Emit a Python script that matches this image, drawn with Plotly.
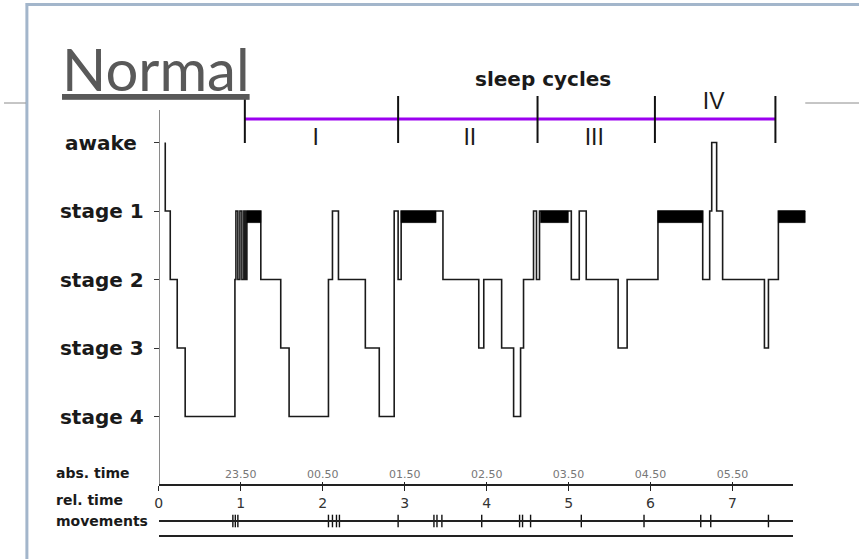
import plotly.graph_objects as go

W, H = 859, 559

# ---------------- data ----------------
stage_vals = [0, 1, 2, 3, 4]
stage_labels = ["awake\u00a0", "stage 1", "stage 2", "stage 3", "stage 4"]

# hypnogram: step start times (hours after lights-off) and stage (0=awake .. 4=stage 4)
hyp_t = [0.079, 0.079, 0.140, 0.225, 0.322, 0.929, 0.941, 0.965, 0.990, 1.014,
         1.038, 1.056, 1.075, 1.245, 1.488, 1.590, 2.070, 2.119, 2.192, 2.520,
         2.690, 2.872, 2.920, 2.957, 3.467, 3.904, 3.965, 4.183, 4.329, 4.414,
         4.450, 4.572, 4.608, 4.645, 5.033, 5.130, 5.215, 5.604, 5.714, 6.090,
         6.636, 6.721, 6.746, 6.806, 6.879, 7.389, 7.438, 7.559, 7.887]
hyp_stage = [0, 1, 2, 3, 4, 2, 1, 2, 1, 2,
             1, 2, 1, 2, 3, 4, 2, 1, 2, 3,
             4, 1, 2, 1, 2, 3, 2, 3, 4, 3,
             2, 1, 2, 1, 2, 1, 2, 3, 2, 1,
             2, 1, 0, 1, 2, 3, 2, 1, 1]

# REM periods (black bars on the stage-1 level)
rem_start = [1.075, 2.957, 4.657, 6.090, 7.559]
rem_end = [1.245, 3.383, 4.997, 6.636, 7.887]

# sleep cycles
cycle_bounds = [1.050, 2.920, 4.621, 6.053, 7.523]
cycle_names = ["I", "II", "III", "IV"]
cycle_label_t = [1.913, 3.795, 5.313, 6.770]
cycle_label_side = ["below", "below", "below", "above"]

# time axes
rel_ticks = [0, 1, 2, 3, 4, 5, 6, 7]
rel_labels = ["0", "1", "2", "3", "4", "5", "6", "7"]
abs_ticks = [1, 2, 3, 4, 5, 6, 7]
abs_labels = ["23.50", "00.50", "01.50", "02.50", "03.50", "04.50", "05.50"]

# body movements (hours)
movements = [0.904, 0.934, 0.965, 2.070, 2.119, 2.168, 2.204, 2.920, 3.357, 3.394,
             3.454, 3.940, 4.402, 4.438, 4.536, 5.155, 5.920, 6.612, 6.734, 7.438]

# ---------------- layout helpers ----------------
X0, KX = 155.5, 82.35      # pixel of t=0, pixels per hour
Y1, KY = 211.0, 68.5       # pixel of stage 1, pixels per stage


def t_of(px):
    return (px - X0) / KX


def s_of(py):
    return 1 + (py - Y1) / KY


def fx(px):
    return px / W


def fy(py):
    return 1 - py / H


AX_LEFT, AX_RIGHT = 155.5, 793
AX_TOP, AX_BOT = 110, 485
REM_H = 0.17
CYC_Y = s_of(119)
CYC_TOP, CYC_BOT = s_of(96), s_of(143)
LAB_BELOW, LAB_ABOVE = s_of(139), s_of(103)
MOV_Y = s_of(521)

fig = go.Figure()

# hypnogram
fig.add_trace(go.Scatter(x=hyp_t, y=hyp_stage, mode="lines",
                         line=dict(shape="hv", color="#1a1a1a", width=1.6),
                         hoverinfo="skip", showlegend=False))

# REM bars
rx, ry = [], []
for a, b in zip(rem_start, rem_end):
    rx += [a, b, b, a, a, None]
    ry += [1, 1, 1 + REM_H, 1 + REM_H, 1, None]
fig.add_trace(go.Scatter(x=rx, y=ry, mode="lines", fill="toself",
                         fillcolor="#000000", line=dict(width=0.5, color="#000000"),
                         hoverinfo="skip", showlegend=False))

# sleep cycle bar
fig.add_trace(go.Scatter(x=[cycle_bounds[0], cycle_bounds[-1]], y=[CYC_Y, CYC_Y],
                         mode="lines", line=dict(color="#9b00f0", width=3),
                         hoverinfo="skip", showlegend=False))
cx, cy = [], []
for b in cycle_bounds:
    cx += [b, b, None]
    cy += [CYC_TOP, CYC_BOT, None]
fig.add_trace(go.Scatter(x=cx, y=cy, mode="lines", line=dict(color="#111111", width=2),
                         hoverinfo="skip", showlegend=False))
levels = [LAB_BELOW if s == "below" else LAB_ABOVE for s in cycle_label_side]
fig.add_trace(go.Scatter(x=cycle_label_t, y=levels, mode="text", text=cycle_names,
                         textfont=dict(family="Liberation Sans", size=23, color="#1a1a1a"),
                         hoverinfo="skip", showlegend=False))

# movement marks
fig.add_trace(go.Scatter(x=movements, y=[MOV_Y] * len(movements), mode="markers",
                         marker=dict(symbol="line-ns", size=9,
                                     line=dict(width=1.4, color="#111111")),
                         cliponaxis=False, hoverinfo="skip", showlegend=False))

# dummy traces to attach decorative axes
for xa, ya in [("x", "y2"), ("x2", "y"), ("x3", "y"), ("x4", "y"), ("x5", "y")]:
    fig.add_trace(go.Scatter(x=[None], y=[None], xaxis=xa, yaxis=ya,
                             showlegend=False, hoverinfo="skip"))

common_x = dict(domain=[fx(AX_LEFT), fx(AX_RIGHT)], range=[0, t_of(AX_RIGHT)],
                anchor="free", showgrid=False, zeroline=False, fixedrange=True)

fig.update_layout(
    width=W, height=H,
    margin=dict(l=0, r=0, t=0, b=0),
    paper_bgcolor="white", plot_bgcolor="rgba(0,0,0,0)",
    showlegend=False,
    xaxis=dict(domain=[0, 1], range=[t_of(0), t_of(W)], visible=False, fixedrange=True),
    yaxis=dict(domain=[0, 1], range=[s_of(H), s_of(0)], visible=False, fixedrange=True),
    yaxis2=dict(anchor="free", position=fx(AX_LEFT),
                domain=[fy(AX_BOT), fy(AX_TOP)], range=[s_of(AX_BOT), s_of(AX_TOP)],
                tickvals=stage_vals, ticktext=stage_labels,
                ticks="outside", ticklen=5, tickcolor="#333333",
                showline=True, linecolor="#8a8a8a", linewidth=1.2,
                tickfont=dict(family="DejaVu Sans", size=20, color="#1a1a1a", weight="bold"),
                ticklabelstandoff=6,
                showgrid=False, zeroline=False, fixedrange=True),
    xaxis2=dict(common_x, position=fy(AX_BOT), tickvals=rel_ticks, ticktext=rel_labels,
                ticks="outside", ticklen=5, tickcolor="#222222",
                showline=True, linecolor="#222222", linewidth=1.5,
                tickfont=dict(family="DejaVu Sans", size=14, color="#333333")),
    xaxis3=dict(common_x, position=fy(AX_BOT), side="top", tickvals=abs_ticks,
                ticktext=abs_labels, ticks="outside", ticklen=3, tickcolor="#222222",
                showline=False,
                tickfont=dict(family="DejaVu Sans", size=11, color="#777777")),
    xaxis4=dict(common_x, position=fy(521), showline=True, linecolor="#222222",
                linewidth=1.5, showticklabels=False, ticks=""),
    xaxis5=dict(common_x, position=fy(536), showline=True, linecolor="#222222",
                linewidth=1.5, showticklabels=False, ticks=""),
)

# slide frame lines
fig.add_shape(type="line", xref="paper", yref="paper", x0=fx(23), x1=fx(23),
              y0=fy(3), y1=fy(H), line=dict(color="#a3b6cb", width=3))
fig.add_shape(type="line", xref="paper", yref="paper", x0=fx(22), x1=1,
              y0=fy(4.5), y1=fy(4.5), line=dict(color="#a3b6cb", width=3))
fig.add_shape(type="line", xref="paper", yref="paper", x0=0, x1=fx(22),
              y0=fy(103), y1=fy(103), line=dict(color="#8c8c8c", width=1))
fig.add_shape(type="line", xref="paper", yref="paper", x0=fx(805), x1=1,
              y0=fy(103), y1=fy(103), line=dict(color="#8c8c8c", width=1))

# texts
fig.add_annotation(text="Normal", xref="paper", yref="paper", x=fx(56), y=fy(68),
                   xanchor="left", yanchor="middle", showarrow=False,
                   font=dict(family="Lato", size=58, color="#595959", lineposition="under"))
fig.add_annotation(text="sleep cycles", xref="paper", yref="paper", x=fx(542), y=fy(79),
                   xanchor="center", yanchor="middle", showarrow=False,
                   font=dict(family="DejaVu Sans", size=20, color="#1a1a1a", weight="bold"))
for txt, py in [("abs. time", 473), ("rel. time", 500), ("movements", 521)]:
    fig.add_annotation(text=txt, xref="paper", yref="paper", x=fx(50), y=fy(py),
                       xanchor="left", yanchor="middle", showarrow=False,
                       font=dict(family="DejaVu Sans", size=14, color="#1a1a1a", weight="bold"))

fig.write_html("out.html")
